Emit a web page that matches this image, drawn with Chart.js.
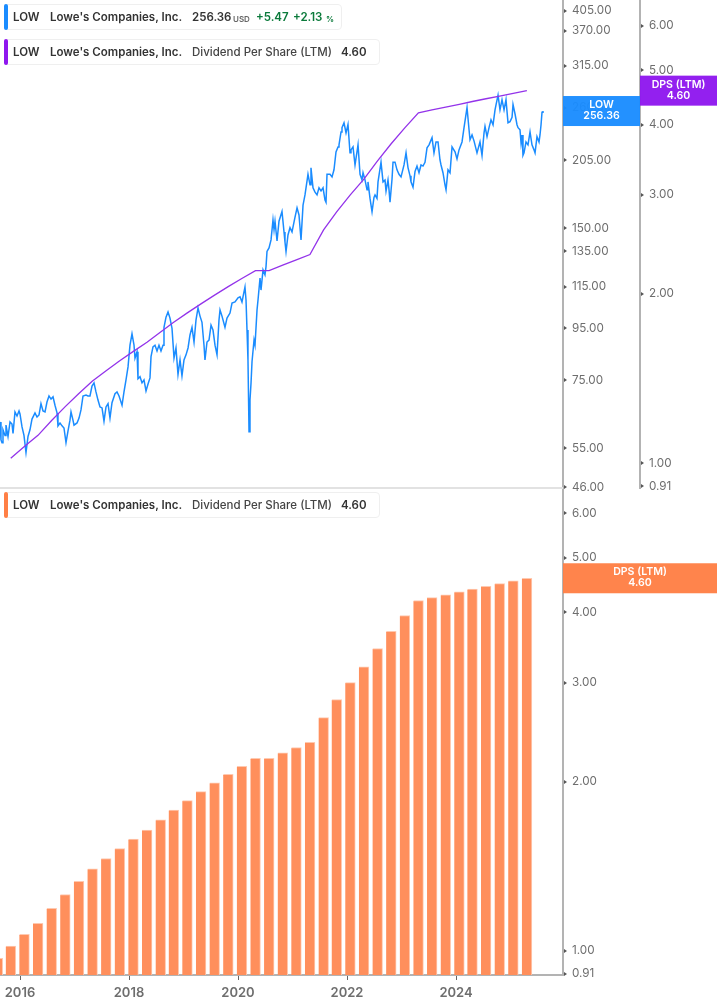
<!DOCTYPE html>
<html>
<head>
<meta charset="utf-8">
<script src="https://cdn.jsdelivr.net/npm/chart.js@4"></script>
<style>
html,body{margin:0;padding:0;background:#fff;width:717px;height:1005px;overflow:hidden;font-family:Inter,"Noto Sans",sans-serif}
canvas{position:absolute;left:0;display:block}
#divider{position:absolute;left:0;top:487px;width:563px;height:2px;background:#e2e2e2}
.legend{position:absolute;left:4px;height:25px;box-sizing:border-box;border:1px solid #efefef;border-radius:4px;background:#fff;font-size:11.5px;color:#333}
.legend i{position:absolute;left:-1px;top:-1px;width:4px;height:25px;border-radius:3px}
.legend span{position:absolute;top:5px;line-height:15px;white-space:nowrap;font-weight:600}
.legend span.n{font-weight:500;color:#444}
.legend span.s{font-size:8px;color:#666;top:7px;font-weight:600}
.legend span.g{color:#0b7a3b}
</style>
</head>
<body>
<canvas id="bottom" style="top:489px"></canvas>
<canvas id="top" style="top:0"></canvas>
<div id="divider"></div>
<div class="legend" style="top:4px;width:338px;height:26px"><i style="background:#1a8cff;height:26px"></i>
<span style="left:8px">LOW</span><span style="left:45px">Lowe's Companies, Inc.</span><span style="left:187px">256.36</span><span class="s" style="left:228px">USD</span><span class="g" style="left:251px">+5.47</span><span class="g" style="left:288px">+2.13</span><span class="s g" style="left:321px;color:#0b7a3b">%</span></div>
<div class="legend" style="top:39px;width:376px;height:26px"><i style="background:#8f17ee;height:26px"></i>
<span style="left:8px">LOW</span><span style="left:45px">Lowe's Companies, Inc.</span><span class="n" style="left:187px">Dividend Per Share (LTM)</span><span style="left:336px">4.60</span></div>
<div class="legend" style="top:492px;width:376px;height:26px"><i style="background:#ff7f45;height:26px"></i>
<span style="left:8px">LOW</span><span style="left:45px">Lowe's Companies, Inc.</span><span class="n" style="left:187px">Dividend Per Share (LTM)</span><span style="left:336px">4.60</span></div>
<script>
const priceTicks=[46,55,75,95,115,135,150,205,260,315,370,405];
const dpsTicks=[0.91,1,2,3,4,5,6];
const yearTicks=[2016,2018,2020,2022,2024];

const dpsDates=[2015.59,2015.83,2016.08,2016.33,2016.58,2016.83,2017.08,2017.33,2017.58,2017.83,
2018.08,2018.33,2018.58,2018.82,2019.07,2019.32,2019.57,2019.82,2020.07,2020.32,
2020.57,2020.82,2021.07,2021.32,2021.57,2021.81,2022.06,2022.31,2022.56,2022.81,
2023.06,2023.31,2023.56,2023.81,2024.06,2024.30,2024.55,2024.80,2025.05,2025.30];
const dpsValues=[0.97,1.02,1.07,1.12,1.19,1.26,1.33,1.40,1.46,1.52,
1.58,1.64,1.71,1.78,1.85,1.92,1.99,2.06,2.13,2.20,
2.20,2.25,2.30,2.35,2.60,2.80,3.00,3.20,3.45,3.70,
3.95,4.20,4.25,4.30,4.35,4.40,4.45,4.50,4.55,4.60];

const priceDates=[
2015.633,2015.651,2015.670,2015.688,2015.725,2015.743,2015.780,2015.817,2015.853,2015.872,
2015.908,2015.945,2015.982,2016.000,2016.037,2016.073,2016.110,2016.147,2016.183,2016.220,
2016.275,2016.312,2016.349,2016.385,2016.422,2016.459,2016.495,2016.532,2016.569,2016.606,
2016.642,2016.679,2016.697,2016.734,2016.771,2016.807,2016.844,2016.881,2016.917,2016.936,
2016.972,2016.991,2017.046,2017.083,2017.119,2017.156,2017.211,2017.248,2017.284,2017.321,
2017.358,2017.394,2017.431,2017.468,2017.505,2017.541,2017.578,2017.615,2017.651,2017.688,
2017.743,2017.780,2017.817,2017.872,2017.908,2017.945,2017.982,2018.018,2018.055,2018.092,
2018.110,2018.147,2018.165,2018.202,2018.239,2018.275,2018.312,2018.349,2018.385,2018.404,
2018.440,2018.477,2018.514,2018.550,2018.587,2018.624,2018.642,2018.679,2018.716,2018.752,
2018.789,2018.826,2018.862,2018.899,2018.936,2018.972,2019.009,2019.046,2019.083,2019.119,
2019.156,2019.193,2019.229,2019.266,2019.303,2019.339,2019.376,2019.394,2019.431,2019.468,
2019.505,2019.541,2019.578,2019.615,2019.651,2019.670,2019.706,2019.761,2019.798,2019.853,
2019.890,2019.945,2020.000,2020.037,2020.073,2020.128,2020.147,2020.165,2020.183,2020.202,
2020.220,2020.239,2020.257,2020.294,2020.312,2020.349,2020.367,2020.404,2020.422,2020.459,
2020.495,2020.514,2020.532,2020.569,2020.606,2020.642,2020.661,2020.679,2020.716,2020.752,
2020.807,2020.844,2020.862,2020.881,2020.917,2020.954,2020.991,2021.046,2021.083,2021.119,
2021.156,2021.193,2021.229,2021.284,2021.321,2021.339,2021.376,2021.413,2021.450,2021.486,
2021.523,2021.560,2021.596,2021.615,2021.633,2021.688,2021.725,2021.761,2021.798,2021.835,
2021.853,2021.890,2021.908,2021.945,2021.982,2022.018,2022.055,2022.073,2022.110,2022.147,
2022.183,2022.202,2022.239,2022.275,2022.294,2022.330,2022.367,2022.385,2022.422,2022.459,
2022.495,2022.514,2022.550,2022.569,2022.624,2022.661,2022.697,2022.716,2022.752,2022.771,
2022.789,2022.826,2022.844,2022.881,2022.917,2022.954,2022.991,2023.046,2023.083,2023.119,
2023.156,2023.174,2023.211,2023.248,2023.284,2023.321,2023.358,2023.394,2023.431,2023.468,
2023.505,2023.560,2023.596,2023.633,2023.670,2023.706,2023.725,2023.761,2023.798,2023.817,
2023.853,2023.890,2023.927,2023.982,2024.018,2024.055,2024.110,2024.147,2024.202,2024.239,
2024.257,2024.294,2024.330,2024.385,2024.440,2024.477,2024.514,2024.532,2024.569,2024.606,
2024.642,2024.679,2024.716,2024.734,2024.771,2024.807,2024.844,2024.881,2024.917,2024.954,
2024.991,2025.028,2025.046,2025.083,2025.119,2025.138,2025.174,2025.193,2025.211,2025.229,
2025.248,2025.284,2025.321,2025.358,2025.394,2025.431,2025.450,2025.486,2025.523,2025.541,
2025.560,2025.578,2025.596];
const priceValues=[
62.0,57.1,56.4,59.8,58.3,61.1,58.0,62.0,61.4,58.8,
64.9,63.7,65.2,64.3,60.6,58.3,53.9,58.0,59.8,62.8,
64.6,63.4,64.0,67.4,65.2,64.9,67.9,69.8,68.8,69.5,
66.9,64.6,60.9,61.7,60.9,60.3,56.4,59.5,62.5,64.9,
62.5,61.1,61.7,63.1,65.5,69.8,70.1,69.8,69.8,73.0,
74.1,71.1,68.5,66.4,66.1,62.2,66.4,67.4,63.1,67.7,
70.5,71.1,69.8,66.9,71.1,75.1,79.7,88.0,92.7,88.0,
83.0,85.4,75.5,76.2,74.1,75.1,71.4,73.7,75.8,83.5,
87.3,88.0,85.7,88.0,85.7,88.0,95.5,100.0,102.4,99.6,
95.0,83.0,86.9,77.0,82.3,76.5,82.3,84.2,86.9,92.2,
95.5,89.3,98.7,104.3,100.5,97.7,88.0,82.3,89.3,90.1,
96.4,94.3,88.0,84.2,98.7,103.4,100.5,95.5,99.6,101.9,
106.7,107.2,109.3,109.8,107.2,114.7,108.2,94.3,82.3,59.3,
68.5,74.1,81.6,90.1,88.0,103.4,108.2,119.6,113.2,124.1,
121.4,126.0,135.0,137.2,142.3,155.9,149.0,155.0,141.6,155.0,
162.0,147.6,141.0,135.0,145.6,150.5,147.6,158.0,164.8,159.5,
142.3,166.8,174.8,192.0,183.0,197.8,180.5,177.0,174.8,180.5,
178.0,180.5,170.8,169.0,192.0,192.0,189.8,196.0,212.7,217.6,
219.7,233.0,237.6,243.0,232.0,241.0,211.8,214.7,217.6,200.4,
212.7,219.7,192.0,187.2,193.4,187.2,178.9,185.5,172.0,161.8,
172.8,174.8,172.0,185.5,203.0,185.5,187.0,177.8,187.2,178.9,
169.0,188.0,203.0,203.0,196.0,192.0,189.8,200.4,211.8,198.0,
190.7,185.5,181.0,194.6,199.4,193.4,200.4,199.4,202.8,216.7,
219.7,227.0,211.8,222.6,222.6,205.0,200.4,193.4,183.0,178.9,
196.0,193.4,217.6,212.7,206.0,214.7,222.6,237.6,260.5,235.3,
224.8,229.8,223.7,211.8,222.6,209.4,232.0,239.0,228.0,237.6,
246.3,240.8,257.8,263.7,275.5,257.8,269.8,257.8,270.0,243.0,
244.2,249.0,264.0,252.9,240.8,237.6,235.3,221.7,229.8,209.4,
211.8,222.6,219.7,233.0,219.7,214.7,211.8,228.0,222.6,229.8,
240.8,255.0,256.36];

const lastPrice=256.36, lastDps=4.60;
const BLUE='#1a8cff', PURPLE='#8f17ee', ORANGE='#ff7f45';
const xMin=2015.633, xMax=2025.963;
const FONT='Inter, "Noto Sans", sans-serif';

function zip(xs,ys){return xs.map((x,i)=>({x,y:ys[i]}));}

function logAxis(list,min,max,width,weight){
  return {
    type:'logarithmic',axis:'y',position:'right',min,max,weight,
    grid:{drawOnChartArea:false,drawTicks:false},
    border:{display:true,color:'#b3b3b3',width:2},
    ticks:{autoSkip:false,padding:9,color:'#6e6e6e',font:{family:FONT,size:11.7},callback:v=>Number(v).toFixed(2)},
    afterBuildTicks(s){s.ticks=list.map(v=>({value:v}));},
    afterFit(s){s.width=width;s.paddingTop=0;s.paddingBottom=0;}
  };
}

const markers={id:'markers',afterDraw(chart,args,opts){
  const c=chart.ctx;
  c.save();
  Object.values(chart.scales).forEach(s=>{
    if(s.axis!=='y')return;
    c.fillStyle='#555';
    s.ticks.forEach(t=>{
      const y=Math.round(s.getPixelForValue(t.value));
      c.beginPath();c.moveTo(s.left+1,y-2);c.lineTo(s.left+4,y);c.lineTo(s.left+1,y+2);c.closePath();c.fill();
    });
  });
  (opts.badges||[]).forEach(b=>{
    const s=chart.scales[b.scale], y=s.getPixelForValue(b.value);
    c.globalAlpha=0.96;c.fillStyle=b.color;
    c.fillRect(s.left,y-15,s.width,30);
    c.globalAlpha=1;c.fillStyle='#fff';
    c.font='600 10.6px '+FONT;c.textAlign='center';c.textBaseline='middle';
    const cx=s.left+s.width/2;
    c.fillText(b.label,cx,y-6);
    c.fillText(b.value.toFixed(2),cx,y+5);
  });
  c.restore();
}};

function setup(id,w,h){const el=document.getElementById(id);el.width=w;el.height=h;el.style.width=w+'px';el.style.height=h+'px';return el;}

new Chart(setup('top',717,500),{
  type:'line',
  data:{datasets:[
    {label:'LOW',data:zip(priceDates,priceValues),xAxisID:'x',yAxisID:'yPrice',borderColor:BLUE,borderWidth:1.5,pointRadius:0,tension:0,order:2},
    {label:'DPS (LTM)',data:zip(dpsDates.slice(1),dpsValues.slice(1)),xAxisID:'x',yAxisID:'yDps',borderColor:'#9333ea',borderWidth:1.3,pointRadius:0,tension:0,order:1}
  ]},
  plugins:[markers],
  options:{
    responsive:false,animation:false,layout:{padding:{bottom:12}},
    plugins:{legend:{display:false},tooltip:{enabled:false},
      markers:{badges:[{scale:'yPrice',value:lastPrice,color:BLUE,label:'LOW'},{scale:'yDps',value:lastDps,color:PURPLE,label:'DPS (LTM)'}]}},
    scales:{
      x:{type:'linear',display:false,min:xMin,max:xMax},
      yPrice:logAxis(priceTicks,45.85,425.6,77,0),
      yDps:logAxis(dpsTicks,0.9026,6.67,77,1)
    }
  }
});

new Chart(setup('bottom',717,516),{
  type:'bar',
  data:{datasets:[
    {label:'DPS (LTM)',data:zip(dpsDates,dpsValues),xAxisID:'x',yAxisID:'yDps',backgroundColor:'#ff8f5c',borderColor:'#ffc9b0',borderWidth:{top:1,right:1,left:0,bottom:0},borderSkipped:false,barThickness:10}
  ]},
  plugins:[markers],
  options:{
    responsive:false,animation:false,layout:{padding:0},
    plugins:{legend:{display:false},tooltip:{enabled:false},
      markers:{badges:[{scale:'yDps',value:lastDps,color:ORANGE,label:'DPS (LTM)'}]}},
    scales:{
      x:{type:'linear',position:'bottom',offset:false,min:xMin,max:xMax,
        grid:{drawOnChartArea:false,drawTicks:true,tickLength:5,tickColor:'#666',offset:false},
        border:{display:true,color:'#b3b3b3',width:2},
        ticks:{autoSkip:false,maxRotation:0,padding:5,color:'#6e6e6e',font:{family:FONT,size:13,weight:'600'},callback:v=>String(v)},
        afterBuildTicks(s){s.ticks=yearTicks.map(v=>({value:v}));},
        afterFit(s){s.height=30;s.paddingLeft=0;s.paddingRight=0;}
      },
      yDps:logAxis(dpsTicks,0.906,6.63,154,0)
    }
  }
});
</script>
</body>
</html>
